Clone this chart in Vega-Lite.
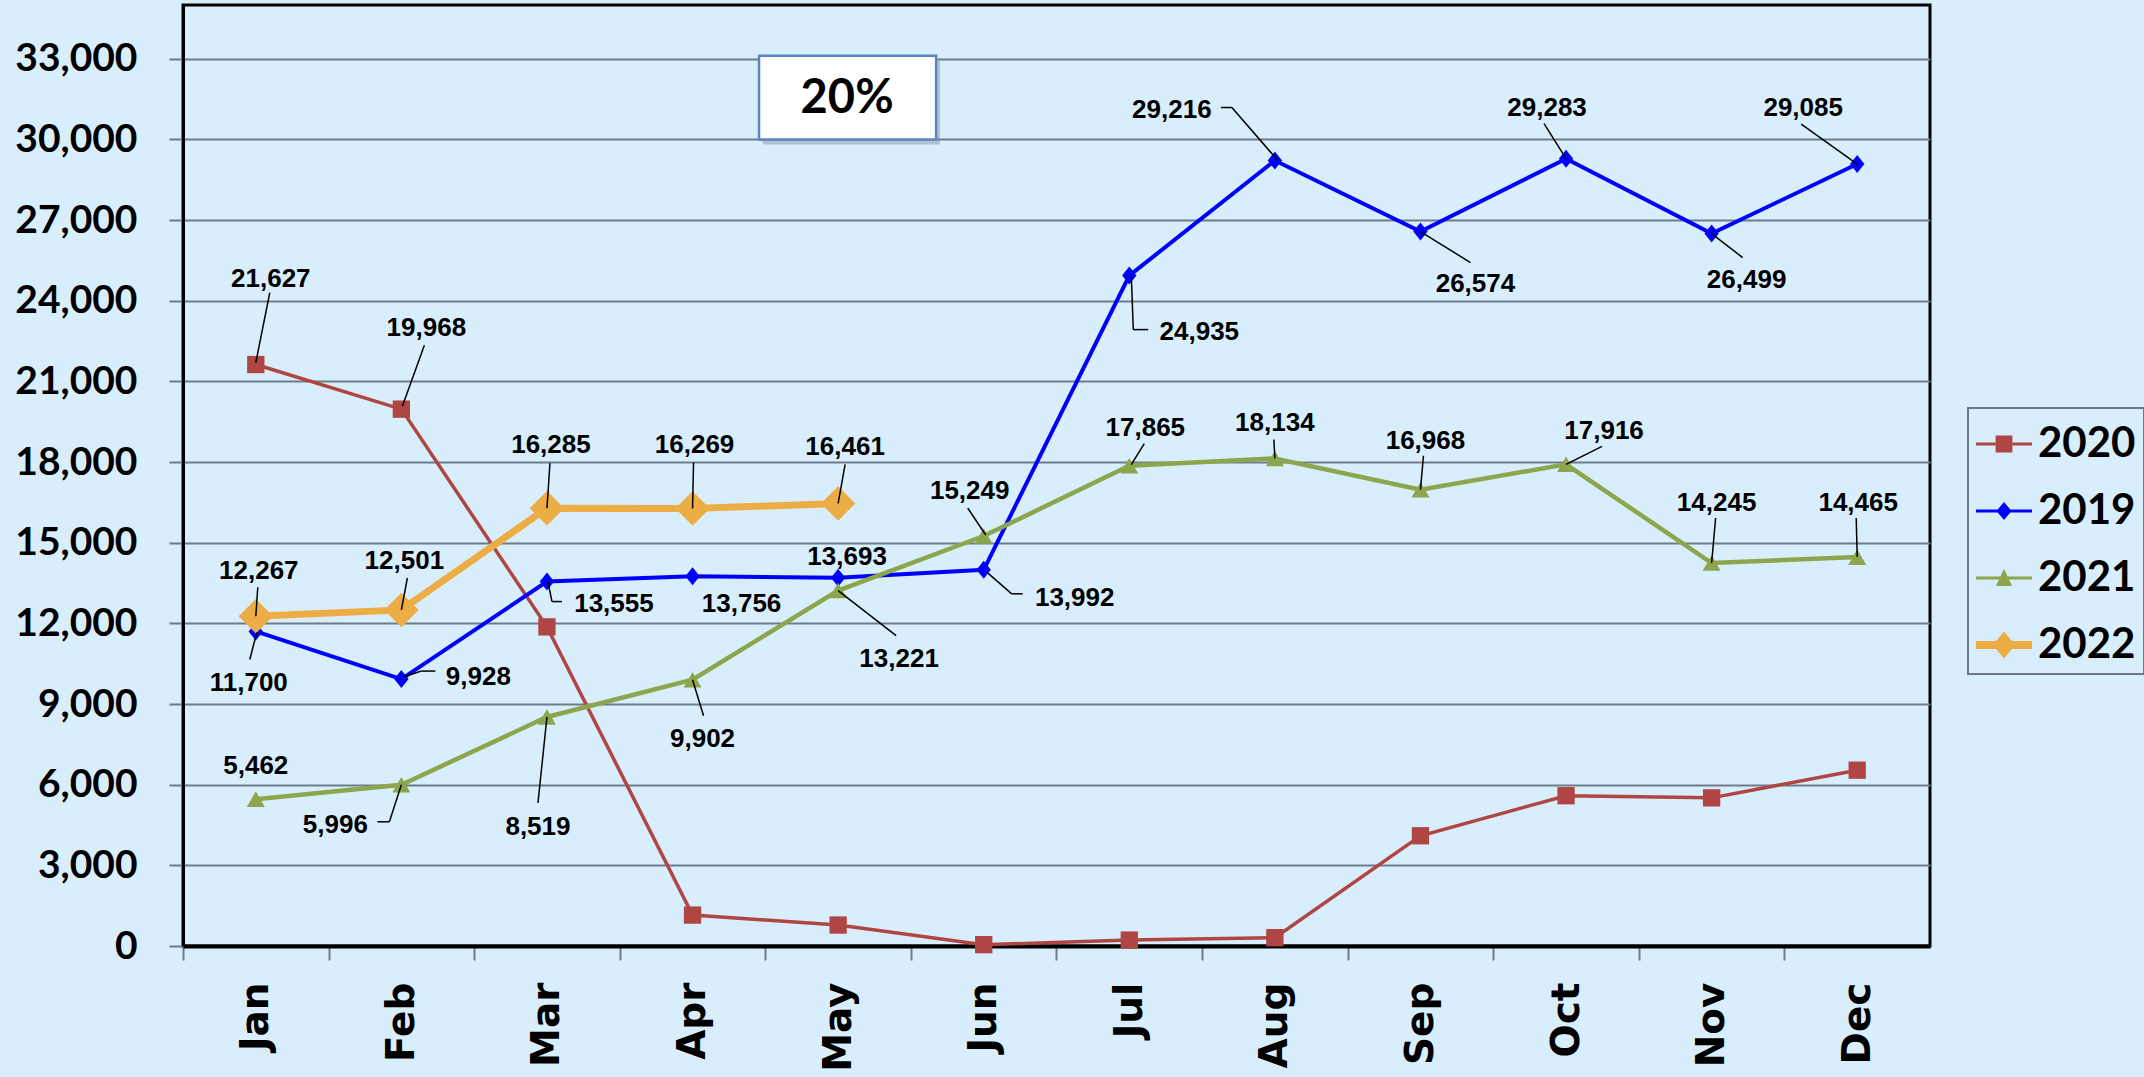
{
  "$schema": "https://vega.github.io/schema/vega-lite/v6.json",
  "width": 1747,
  "height": 941,
  "autosize": {"type": "none"},
  "padding": {"left": 183, "top": 5, "right": 214, "bottom": 131},
  "background": "#d9eefc",
  "config": {
    "view": {"stroke": "#000000", "strokeWidth": 3, "fill": "#d9eefc"},
    "text": {"font": "Liberation Sans, Arial, sans-serif", "fontWeight": "bold", "fontSize": 26, "align": "center", "baseline": "middle", "color": "#000000"},
    "rule": {"color": "#000000", "strokeWidth": 1.5},
    "legend": {"strokeWidth": 2}
  },
  "data": {"values": [
    {"month": "Jan", "year": "2020", "value": 21627},
    {"month": "Feb", "year": "2020", "value": 19968},
    {"month": "Mar", "year": "2020", "value": 11870},
    {"month": "Apr", "year": "2020", "value": 1150},
    {"month": "May", "year": "2020", "value": 780},
    {"month": "Jun", "year": "2020", "value": 50},
    {"month": "Jul", "year": "2020", "value": 220},
    {"month": "Aug", "year": "2020", "value": 310},
    {"month": "Sep", "year": "2020", "value": 4100},
    {"month": "Oct", "year": "2020", "value": 5590},
    {"month": "Nov", "year": "2020", "value": 5510},
    {"month": "Dec", "year": "2020", "value": 6540},
    {"month": "Jan", "year": "2019", "value": 11700},
    {"month": "Feb", "year": "2019", "value": 9928},
    {"month": "Mar", "year": "2019", "value": 13555},
    {"month": "Apr", "year": "2019", "value": 13756},
    {"month": "May", "year": "2019", "value": 13693},
    {"month": "Jun", "year": "2019", "value": 13992},
    {"month": "Jul", "year": "2019", "value": 24935},
    {"month": "Aug", "year": "2019", "value": 29216},
    {"month": "Sep", "year": "2019", "value": 26574},
    {"month": "Oct", "year": "2019", "value": 29283},
    {"month": "Nov", "year": "2019", "value": 26499},
    {"month": "Dec", "year": "2019", "value": 29085},
    {"month": "Jan", "year": "2021", "value": 5462},
    {"month": "Feb", "year": "2021", "value": 5996},
    {"month": "Mar", "year": "2021", "value": 8519},
    {"month": "Apr", "year": "2021", "value": 9902},
    {"month": "May", "year": "2021", "value": 13221},
    {"month": "Jun", "year": "2021", "value": 15249},
    {"month": "Jul", "year": "2021", "value": 17865},
    {"month": "Aug", "year": "2021", "value": 18134},
    {"month": "Sep", "year": "2021", "value": 16968},
    {"month": "Oct", "year": "2021", "value": 17916},
    {"month": "Nov", "year": "2021", "value": 14245},
    {"month": "Dec", "year": "2021", "value": 14465},
    {"month": "Jan", "year": "2022", "value": 12267},
    {"month": "Feb", "year": "2022", "value": 12501},
    {"month": "Mar", "year": "2022", "value": 16285},
    {"month": "Apr", "year": "2022", "value": 16269},
    {"month": "May", "year": "2022", "value": 16461}
  ]},
  "layer": [
   {
    "encoding": {
      "x": {
        "field": "month", "type": "ordinal",
        "sort": ["Jan", "Feb", "Mar", "Apr", "May", "Jun", "Jul", "Aug", "Sep", "Oct", "Nov", "Dec"],
        "scale": {"type": "point", "padding": 0.5, "domain": ["Jan", "Feb", "Mar", "Apr", "May", "Jun", "Jul", "Aug", "Sep", "Oct", "Nov", "Dec"]},
        "axis": {"title": null, "grid": false, "labelAngle": 270, "labelFont": "DejaVu Sans", "labelFontWeight": "bold", "labelFontSize": 39, "labelColor": "#000000", "labelPadding": 22, "tickSize": 14, "tickColor": "#6e7b88", "tickWidth": 2, "tickOffset": -72.8, "labelOffset": 72.8, "domainColor": "#000000", "domainWidth": 4}
      },
      "y": {
        "field": "value", "type": "quantitative",
        "scale": {"domain": [0, 35000], "nice": false},
        "axis": {"title": null, "values": [0, 3000, 6000, 9000, 12000, 15000, 18000, 21000, 24000, 27000, 30000, 33000], "format": ",.0f", "grid": true, "gridColor": "#6e7b88", "gridWidth": 2.2, "labelFont": "Lato", "labelFontWeight": "bold", "labelFontSize": 39, "labelColor": "#000000", "labelPadding": 32, "tickSize": 14, "tickColor": "#6e7b88", "tickWidth": 2, "domainColor": "#000000", "domainWidth": 3}
      }
    },
    "layer": [
    {"transform": [{"filter": "datum.year=='2020'"}], "mark": {"type": "line", "color": "#b04643", "strokeWidth": 3.5, "point": {"filled": true, "shape": "square", "size": 300, "color": "#b04643", "opacity": 1}}},
    {"transform": [{"filter": "datum.year=='2019'"}], "mark": {"type": "line", "color": "#0000ff", "strokeWidth": 4, "point": {"filled": true, "shape": "M0,-1L0.8,0L0,1L-0.8,0Z", "size": 324, "color": "#0000ff", "opacity": 1}}},
    {"transform": [{"filter": "datum.year=='2021'"}], "mark": {"type": "line", "color": "#8ba64d", "strokeWidth": 4.5, "point": {"filled": true, "shape": "triangle-up", "size": 324, "color": "#8ba64d", "opacity": 1}}},
    {"transform": [{"filter": "datum.year=='2022'"}], "mark": {"type": "line", "color": "#ecae44", "strokeWidth": 7, "point": {"filled": true, "shape": "diamond", "size": 1190, "color": "#ecae44", "opacity": 1}}},

    {"transform": [{"filter": "datum.year=='2020'&&datum.month=='Jan'"}], "layer": [
      {"mark": {"type": "rule", "xOffset": 0, "yOffset": -2, "x2Offset": 14, "y2Offset": -72}, "encoding": {"x2": {"field": "month"}, "y2": {"field": "value"}}},
      {"mark": {"type": "text", "dx": 15, "dy": -86}, "encoding": {"text": {"field": "value", "format": ","}}}]},
    {"transform": [{"filter": "datum.year=='2020'&&datum.month=='Feb'"}], "layer": [
      {"mark": {"type": "rule", "xOffset": 1, "yOffset": -3, "x2Offset": 23, "y2Offset": -64}, "encoding": {"x2": {"field": "month"}, "y2": {"field": "value"}}},
      {"mark": {"type": "text", "dx": 25, "dy": -81}, "encoding": {"text": {"field": "value", "format": ","}}}]},

    {"transform": [{"filter": "datum.year=='2019'&&datum.month=='Jan'"}], "layer": [
      {"mark": {"type": "rule", "xOffset": 1, "yOffset": 1, "x2Offset": -6, "y2Offset": 28}, "encoding": {"x2": {"field": "month"}, "y2": {"field": "value"}}},
      {"mark": {"type": "text", "dx": -7, "dy": 52}, "encoding": {"text": {"field": "value", "format": ","}}}]},
    {"transform": [{"filter": "datum.year=='2019'&&datum.month=='Feb'"}], "layer": [
      {"mark": {"type": "rule", "xOffset": 2, "yOffset": -2, "x2Offset": 20, "y2Offset": -8}, "encoding": {"x2": {"field": "month"}, "y2": {"field": "value"}}},
      {"mark": {"type": "rule", "xOffset": 20, "yOffset": -8, "x2Offset": 34, "y2Offset": -8}, "encoding": {"x2": {"field": "month"}, "y2": {"field": "value"}}},
      {"mark": {"type": "text", "dx": 77, "dy": -2}, "encoding": {"text": {"field": "value", "format": ","}}}]},
    {"transform": [{"filter": "datum.year=='2019'&&datum.month=='Mar'"}], "layer": [
      {"mark": {"type": "rule", "xOffset": 1, "yOffset": 0, "x2Offset": 5, "y2Offset": 20}, "encoding": {"x2": {"field": "month"}, "y2": {"field": "value"}}},
      {"mark": {"type": "rule", "xOffset": 5, "yOffset": 20, "x2Offset": 15, "y2Offset": 20}, "encoding": {"x2": {"field": "month"}, "y2": {"field": "value"}}},
      {"mark": {"type": "text", "dx": 67, "dy": 22}, "encoding": {"text": {"field": "value", "format": ","}}}]},
    {"transform": [{"filter": "datum.year=='2019'&&datum.month=='Apr'"}], "mark": {"type": "text", "dx": 49, "dy": 28}, "encoding": {"text": {"field": "value", "format": ","}}},
    {"transform": [{"filter": "datum.year=='2019'&&datum.month=='May'"}], "mark": {"type": "text", "dx": 9, "dy": -21}, "encoding": {"text": {"field": "value", "format": ","}}},
    {"transform": [{"filter": "datum.year=='2019'&&datum.month=='Jun'"}], "layer": [
      {"mark": {"type": "rule", "xOffset": 4, "yOffset": 3, "x2Offset": 28, "y2Offset": 24}, "encoding": {"x2": {"field": "month"}, "y2": {"field": "value"}}},
      {"mark": {"type": "rule", "xOffset": 28, "yOffset": 24, "x2Offset": 39, "y2Offset": 24}, "encoding": {"x2": {"field": "month"}, "y2": {"field": "value"}}},
      {"mark": {"type": "text", "dx": 91, "dy": 28}, "encoding": {"text": {"field": "value", "format": ","}}}]},
    {"transform": [{"filter": "datum.year=='2019'&&datum.month=='Jul'"}], "layer": [
      {"mark": {"type": "rule", "xOffset": 2, "yOffset": 0, "x2Offset": 4, "y2Offset": 54}, "encoding": {"x2": {"field": "month"}, "y2": {"field": "value"}}},
      {"mark": {"type": "rule", "xOffset": 4, "yOffset": 54, "x2Offset": 19, "y2Offset": 54}, "encoding": {"x2": {"field": "month"}, "y2": {"field": "value"}}},
      {"mark": {"type": "text", "dx": 70, "dy": 56}, "encoding": {"text": {"field": "value", "format": ","}}}]},
    {"transform": [{"filter": "datum.year=='2019'&&datum.month=='Aug'"}], "layer": [
      {"mark": {"type": "rule", "xOffset": 3, "yOffset": 0, "x2Offset": -43, "y2Offset": -53}, "encoding": {"x2": {"field": "month"}, "y2": {"field": "value"}}},
      {"mark": {"type": "rule", "xOffset": -43, "yOffset": -53, "x2Offset": -54, "y2Offset": -53}, "encoding": {"x2": {"field": "month"}, "y2": {"field": "value"}}},
      {"mark": {"type": "text", "dx": -103, "dy": -51}, "encoding": {"text": {"field": "value", "format": ","}}}]},
    {"transform": [{"filter": "datum.year=='2019'&&datum.month=='Sep'"}], "layer": [
      {"mark": {"type": "rule", "xOffset": 0, "yOffset": 0, "x2Offset": 50, "y2Offset": 31}, "encoding": {"x2": {"field": "month"}, "y2": {"field": "value"}}},
      {"mark": {"type": "text", "dx": 55, "dy": 52}, "encoding": {"text": {"field": "value", "format": ","}}}]},
    {"transform": [{"filter": "datum.year=='2019'&&datum.month=='Oct'"}], "layer": [
      {"mark": {"type": "rule", "xOffset": 0, "yOffset": 0, "x2Offset": -22, "y2Offset": -35}, "encoding": {"x2": {"field": "month"}, "y2": {"field": "value"}}},
      {"mark": {"type": "text", "dx": -19, "dy": -51}, "encoding": {"text": {"field": "value", "format": ","}}}]},
    {"transform": [{"filter": "datum.year=='2019'&&datum.month=='Nov'"}], "layer": [
      {"mark": {"type": "rule", "xOffset": 0, "yOffset": 0, "x2Offset": 31, "y2Offset": 24}, "encoding": {"x2": {"field": "month"}, "y2": {"field": "value"}}},
      {"mark": {"type": "text", "dx": 35, "dy": 46}, "encoding": {"text": {"field": "value", "format": ","}}}]},
    {"transform": [{"filter": "datum.year=='2019'&&datum.month=='Dec'"}], "layer": [
      {"mark": {"type": "rule", "xOffset": 0, "yOffset": 0, "x2Offset": -56, "y2Offset": -40}, "encoding": {"x2": {"field": "month"}, "y2": {"field": "value"}}},
      {"mark": {"type": "text", "dx": -54, "dy": -56}, "encoding": {"text": {"field": "value", "format": ","}}}]},

    {"transform": [{"filter": "datum.year=='2021'&&datum.month=='Jan'"}], "mark": {"type": "text", "dx": 0, "dy": -33}, "encoding": {"text": {"field": "value", "format": ","}}},
    {"transform": [{"filter": "datum.year=='2021'&&datum.month=='Feb'"}], "layer": [
      {"mark": {"type": "rule", "xOffset": 0, "yOffset": 0, "x2Offset": -12, "y2Offset": 37}, "encoding": {"x2": {"field": "month"}, "y2": {"field": "value"}}},
      {"mark": {"type": "rule", "xOffset": -12, "yOffset": 37, "x2Offset": -24, "y2Offset": 37}, "encoding": {"x2": {"field": "month"}, "y2": {"field": "value"}}},
      {"mark": {"type": "text", "dx": -66, "dy": 40}, "encoding": {"text": {"field": "value", "format": ","}}}]},
    {"transform": [{"filter": "datum.year=='2021'&&datum.month=='Mar'"}], "layer": [
      {"mark": {"type": "rule", "xOffset": 0, "yOffset": 0, "x2Offset": -9, "y2Offset": 86}, "encoding": {"x2": {"field": "month"}, "y2": {"field": "value"}}},
      {"mark": {"type": "text", "dx": -9, "dy": 110}, "encoding": {"text": {"field": "value", "format": ","}}}]},
    {"transform": [{"filter": "datum.year=='2021'&&datum.month=='Apr'"}], "layer": [
      {"mark": {"type": "rule", "xOffset": 0, "yOffset": 0, "x2Offset": 11, "y2Offset": 36}, "encoding": {"x2": {"field": "month"}, "y2": {"field": "value"}}},
      {"mark": {"type": "text", "dx": 10, "dy": 59}, "encoding": {"text": {"field": "value", "format": ","}}}]},
    {"transform": [{"filter": "datum.year=='2021'&&datum.month=='May'"}], "layer": [
      {"mark": {"type": "rule", "xOffset": 0, "yOffset": 0, "x2Offset": 58, "y2Offset": 45}, "encoding": {"x2": {"field": "month"}, "y2": {"field": "value"}}},
      {"mark": {"type": "text", "dx": 61, "dy": 68}, "encoding": {"text": {"field": "value", "format": ","}}}]},
    {"transform": [{"filter": "datum.year=='2021'&&datum.month=='Jun'"}], "layer": [
      {"mark": {"type": "rule", "xOffset": 2, "yOffset": -1, "x2Offset": -16, "y2Offset": -28}, "encoding": {"x2": {"field": "month"}, "y2": {"field": "value"}}},
      {"mark": {"type": "text", "dx": -14, "dy": -45}, "encoding": {"text": {"field": "value", "format": ","}}}]},
    {"transform": [{"filter": "datum.year=='2021'&&datum.month=='Jul'"}], "layer": [
      {"mark": {"type": "rule", "xOffset": 2, "yOffset": -1, "x2Offset": 15, "y2Offset": -22}, "encoding": {"x2": {"field": "month"}, "y2": {"field": "value"}}},
      {"mark": {"type": "text", "dx": 16, "dy": -38}, "encoding": {"text": {"field": "value", "format": ","}}}]},
    {"transform": [{"filter": "datum.year=='2021'&&datum.month=='Aug'"}], "layer": [
      {"mark": {"type": "rule", "xOffset": 0, "yOffset": 0, "x2Offset": -1, "y2Offset": -19}, "encoding": {"x2": {"field": "month"}, "y2": {"field": "value"}}},
      {"mark": {"type": "text", "dx": 0, "dy": -35}, "encoding": {"text": {"field": "value", "format": ","}}}]},
    {"transform": [{"filter": "datum.year=='2021'&&datum.month=='Sep'"}], "layer": [
      {"mark": {"type": "rule", "xOffset": 0, "yOffset": 0, "x2Offset": 3, "y2Offset": -34}, "encoding": {"x2": {"field": "month"}, "y2": {"field": "value"}}},
      {"mark": {"type": "text", "dx": 5, "dy": -49}, "encoding": {"text": {"field": "value", "format": ","}}}]},
    {"transform": [{"filter": "datum.year=='2021'&&datum.month=='Oct'"}], "layer": [
      {"mark": {"type": "rule", "xOffset": 0, "yOffset": 0, "x2Offset": 36, "y2Offset": -18}, "encoding": {"x2": {"field": "month"}, "y2": {"field": "value"}}},
      {"mark": {"type": "text", "dx": 38, "dy": -33}, "encoding": {"text": {"field": "value", "format": ","}}}]},
    {"transform": [{"filter": "datum.year=='2021'&&datum.month=='Nov'"}], "layer": [
      {"mark": {"type": "rule", "xOffset": 0, "yOffset": 0, "x2Offset": 4, "y2Offset": -45}, "encoding": {"x2": {"field": "month"}, "y2": {"field": "value"}}},
      {"mark": {"type": "text", "dx": 5, "dy": -60}, "encoding": {"text": {"field": "value", "format": ","}}}]},
    {"transform": [{"filter": "datum.year=='2021'&&datum.month=='Dec'"}], "layer": [
      {"mark": {"type": "rule", "xOffset": 0, "yOffset": 0, "x2Offset": -1, "y2Offset": -39}, "encoding": {"x2": {"field": "month"}, "y2": {"field": "value"}}},
      {"mark": {"type": "text", "dx": 1, "dy": -54}, "encoding": {"text": {"field": "value", "format": ","}}}]},

    {"transform": [{"filter": "datum.year=='2022'&&datum.month=='Jan'"}], "layer": [
      {"mark": {"type": "rule", "xOffset": 0, "yOffset": 0, "x2Offset": 2, "y2Offset": -29}, "encoding": {"x2": {"field": "month"}, "y2": {"field": "value"}}},
      {"mark": {"type": "text", "dx": 3, "dy": -45}, "encoding": {"text": {"field": "value", "format": ","}}}]},
    {"transform": [{"filter": "datum.year=='2022'&&datum.month=='Feb'"}], "layer": [
      {"mark": {"type": "rule", "xOffset": 0, "yOffset": 0, "x2Offset": 6, "y2Offset": -32}, "encoding": {"x2": {"field": "month"}, "y2": {"field": "value"}}},
      {"mark": {"type": "text", "dx": 3, "dy": -49}, "encoding": {"text": {"field": "value", "format": ","}}}]},
    {"transform": [{"filter": "datum.year=='2022'&&datum.month=='Mar'"}], "layer": [
      {"mark": {"type": "rule", "xOffset": 0, "yOffset": 0, "x2Offset": 3, "y2Offset": -45}, "encoding": {"x2": {"field": "month"}, "y2": {"field": "value"}}},
      {"mark": {"type": "text", "dx": 4, "dy": -63}, "encoding": {"text": {"field": "value", "format": ","}}}]},
    {"transform": [{"filter": "datum.year=='2022'&&datum.month=='Apr'"}], "layer": [
      {"mark": {"type": "rule", "xOffset": 0, "yOffset": 0, "x2Offset": 1, "y2Offset": -46}, "encoding": {"x2": {"field": "month"}, "y2": {"field": "value"}}},
      {"mark": {"type": "text", "dx": 2, "dy": -64}, "encoding": {"text": {"field": "value", "format": ","}}}]},
    {"transform": [{"filter": "datum.year=='2022'&&datum.month=='May'"}], "layer": [
      {"mark": {"type": "rule", "xOffset": 0, "yOffset": 0, "x2Offset": 7, "y2Offset": -39}, "encoding": {"x2": {"field": "month"}, "y2": {"field": "value"}}},
      {"mark": {"type": "text", "dx": 7, "dy": -56}, "encoding": {"text": {"field": "value", "format": ","}}}]},

    {"mark": {"type": "point", "filled": true, "opacity": 0, "size": 3136}, "encoding": {
      "fill": {"field": "year", "type": "nominal", "scale": {"domain": ["2020", "2019", "2021", "2022"], "range": ["#b04643", "#0000ff", "#8ba64d", "#ecae44"]},
        "legend": {"orient": "none", "legendX": 1785, "legendY": 403, "title": null, "padding": 8, "strokeColor": "#6b7785", "fillColor": "#d9eefc", "labelFont": "Lato", "labelFontWeight": "bold", "labelFontSize": 42, "labelColor": "#000000", "labelOffset": 6, "symbolSize": 3136, "rowPadding": 18, "symbolOpacity": 1, "symbolStrokeWidth": 0}},
      "shape": {"field": "year", "type": "nominal", "scale": {"domain": ["2020", "2019", "2021", "2022"], "range": ["M-1,-0.05H1V0.05H-1Z M-0.3,-0.3H0.3V0.3H-0.3Z", "M-1,-0.05H1V0.05H-1Z M0,-0.32L0.27,0L0,0.32L-0.27,0Z", "M-1,-0.05H1V0.05H-1Z M0,-0.33L0.29,0.29H-0.29Z", "M-1,-0.14H1V0.14H-1Z M0,-0.48L0.41,0L0,0.48L-0.41,0Z"]},
        "legend": {"orient": "none", "legendX": 1785, "legendY": 403, "title": null, "padding": 8, "strokeColor": "#6b7785", "fillColor": "#d9eefc", "labelFont": "Lato", "labelFontWeight": "bold", "labelFontSize": 42, "labelColor": "#000000", "labelOffset": 6, "symbolSize": 3136, "rowPadding": 18, "symbolOpacity": 1, "symbolStrokeWidth": 0}}
    }}
    ]
   },
   {"data": {"values": [{"note": "20%"}]}, "layer": [
      {"mark": {"type": "rect", "fill": "#7d8c9c", "opacity": 0.45, "xOffset": 70, "x2Offset": 102, "yOffset": 2, "y2Offset": 5}, "encoding": {"x": {"datum": "Apr", "type": "ordinal"}, "x2": {"datum": "May"}, "y": {"datum": 33000, "type": "quantitative"}, "y2": {"datum": 30000}}},
      {"mark": {"type": "rect", "fill": "#ffffff", "stroke": "#5b87c0", "strokeWidth": 2.5, "xOffset": 66.5, "x2Offset": 98, "yOffset": -3, "y2Offset": 0}, "encoding": {"x": {"datum": "Apr", "type": "ordinal"}, "x2": {"datum": "May"}, "y": {"datum": 33000, "type": "quantitative"}, "y2": {"datum": 30000}}},
      {"mark": {"type": "text", "font": "Lato", "fontWeight": "bold", "fontSize": 47, "dx": 9, "dy": 0}, "encoding": {"x": {"datum": "May", "type": "ordinal"}, "y": {"datum": 31500, "type": "quantitative"}, "text": {"field": "note"}}}
   ]}
  ]
}
